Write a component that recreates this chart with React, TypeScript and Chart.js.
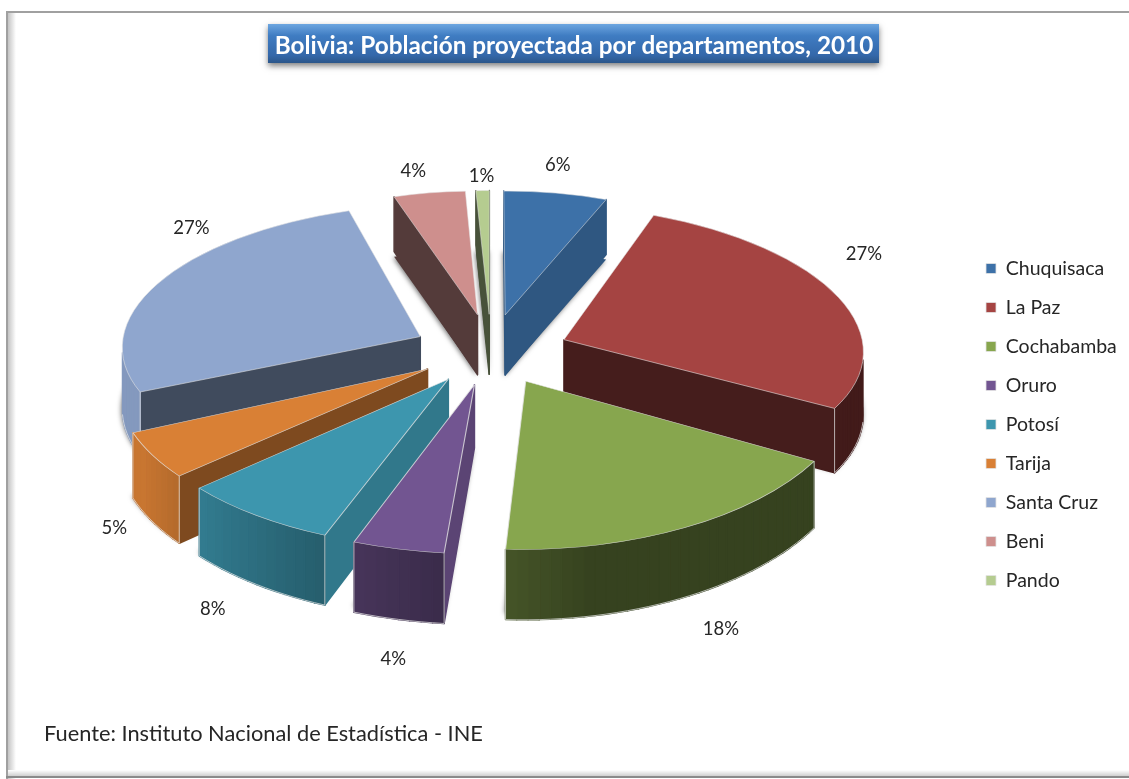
import React, { useEffect, useRef } from "react";
import { Chart, registerables } from "chart.js";

Chart.register(...registerables);

const departamentos = ["Chuquisaca", "La Paz", "Cochabamba", "Oruro", "Potosí", "Tarija", "Santa Cruz", "Beni", "Pando"];
const poblacionPct = [6.2, 27.2, 17.9, 4.3, 7.6, 5.0, 26.7, 4.3, 0.8];
const topColors = ["#3d71a8", "#a54442", "#87a64e", "#725591", "#3d96ae", "#d98035", "#8fa6ce", "#ce8f8d", "#b5cc90"];
const radialShade = [0.77, 0.42, 0.5, 0.8, 0.8, 0.58, 0.45, 0.41, 0.4];
const labelNudge = [[2, -28], [30, -40], [33, 101], [-5, 110], [-43, 93], [-38, 73], [29, -53], [-16, -22], [-1, -15]];
const titulo = "Bolivia: Población proyectada por departamentos, 2010";
const fuente = "Fuente: Instituto Nacional de Estadística - INE";

const W = 1129, H = 779;
const PIE_X = 491, PIE_Y = 349, TILT = 0.4748, PERSP = 0.000343, DEPTH = 61.5;
const FONT = "Lato, 'Open Sans', sans-serif";

const persp = (w: number) => 1 / (1 - PERSP * w);
const project = (u: number, w: number) => {
  const s = persp(w);
  return [PIE_X + u * s, PIE_Y + TILT * w * s];
};
const shadeHex = (hex: string, f: number) => {
  const n = parseInt(hex.slice(1), 16);
  return `rgb(${Math.round(((n >> 16) & 255) * f)},${Math.round(((n >> 8) & 255) * f)},${Math.round((n & 255) * f)})`;
};
const rimShade = (a: number) => {
  let d = ((a + Math.PI / 2) * 180) / Math.PI;
  d = ((d % 360) + 360) % 360;
  if (d <= 170) return 0.4;
  if (d >= 240) return 0.92;
  return 0.4 + ((d - 170) / 70) * 0.52;
};

function solve3(m: number[][], v: number[]) {
  const det = (a: number[][]) =>
    a[0][0] * (a[1][1] * a[2][2] - a[1][2] * a[2][1]) -
    a[0][1] * (a[1][0] * a[2][2] - a[1][2] * a[2][0]) +
    a[0][2] * (a[1][0] * a[2][1] - a[1][1] * a[2][0]);
  const d = det(m);
  return [0, 1, 2].map((c) => det(m.map((row, r) => row.map((x, i) => (i === c ? v[r] : x)))) / d);
}

// Best affine stand-in for the perspective projection over one exploded slice
function sliceGeometry(arc: any) {
  const off = arc.options.offset || 0;
  const mid = (arc.startAngle + arc.endAngle) / 2;
  const ox = Math.cos(mid) * off, oy = Math.sin(mid) * off;
  const r = arc.outerRadius;
  const samples: number[][] = [];
  for (let i = 0; i < 4; i++) samples.push([ox, oy]);
  for (let i = 0; i <= 12; i++) {
    const a = arc.startAngle + ((arc.endAngle - arc.startAngle) * i) / 12;
    const rep = i === 0 || i === 12 ? 3 : 1;
    for (let k = 0; k < rep; k++) samples.push([ox + Math.cos(a) * r, oy + Math.sin(a) * r]);
  }
  const M = [[0, 0, 0], [0, 0, 0], [0, 0, 0]];
  const bx = [0, 0, 0], by = [0, 0, 0];
  samples.forEach(([u, w]) => {
    const f = [u, w, 1];
    const [X, Y] = project(u, w);
    for (let i = 0; i < 3; i++) {
      bx[i] += f[i] * X;
      by[i] += f[i] * Y;
      for (let j = 0; j < 3; j++) M[i][j] += f[i] * f[j];
    }
  });
  const [a, c, e] = solve3(M, bx);
  const [b, d, f] = solve3(M, by);
  const T = (u: number, w: number) => [a * u + c * w + e, b * u + d * w + f];
  return { a, b, c, d, e, f, T, ox, oy, r, mid };
}

const piePlugin = {
  id: "pie3d",
  beforeDraw(chart: any) {
    const ctx = chart.ctx;
    ctx.save();
    // card
    ctx.fillStyle = "#ffffff";
    ctx.fillRect(0, 0, W, H);
    const lg = ctx.createLinearGradient(8, 0, 16, 0);
    lg.addColorStop(0, "#c4c4c4");
    lg.addColorStop(1, "#ffffff");
    ctx.fillStyle = lg;
    ctx.fillRect(8, 13, 8, H - 13);
    const bg = ctx.createLinearGradient(0, 770, 0, 776);
    bg.addColorStop(0, "#ffffff");
    bg.addColorStop(1, "#cfcfcf");
    ctx.fillStyle = bg;
    ctx.fillRect(8, 770, W - 8, 6);
    ctx.fillStyle = "#a0a0a0";
    ctx.fillRect(6, 11, W - 6, 2);
    ctx.fillRect(6, 11, 2, H - 11);
    ctx.fillStyle = "#8a8a8a";
    ctx.fillRect(6, 776, W - 6, 2);
    // title plate
    ctx.save();
    ctx.shadowColor = "rgba(0,0,0,0.5)";
    ctx.shadowBlur = 6;
    ctx.shadowOffsetY = 3;
    const g = ctx.createLinearGradient(0, 24, 0, 63);
    g.addColorStop(0, "#6da6e0");
    g.addColorStop(0.3, "#3f7cc2");
    g.addColorStop(0.8, "#3468aa");
    g.addColorStop(1, "#2b5689");
    ctx.fillStyle = g;
    ctx.fillRect(268, 24, 611, 39);
    ctx.restore();
    ctx.restore();
  },
  afterLayout(chart: any) {
    const lg = chart.legend;
    const pad = lg.options.labels.padding;
    lg.left = 986 - pad;
    lg.right = W;
    lg.top = 258.75 - pad;
    lg.bottom = 640;
  },
  beforeDatasetsDraw(chart: any) {
    const ctx = chart.ctx;
    const arcs: any[] = chart.getDatasetMeta(0).data;
    const order = arcs
      .map((arc, i) => ({ arc, i, g: sliceGeometry(arc) }))
      .sort((p, q) => p.g.oy - q.g.oy);
    const camW = 1 / PERSP;

    order.forEach(({ arc, i, g }) => {
      const base = topColors[i];
      const savedOptions = arc.options;
      // the explosion is applied here so the arc keeps its true angular span
      const applyT = (dy: number) => {
        ctx.translate(0, dy);
        ctx.transform(g.a, g.b, g.c, g.d, g.e, g.f);
        ctx.translate(g.ox - arc.x, g.oy - arc.y);
      };
      const baseDepth = DEPTH * persp(g.oy);

      // soft ground shadow from the slice's lower face
      ctx.save();
      ctx.shadowColor = "rgba(0,0,0,0.55)";
      ctx.shadowBlur = 5;
      ctx.shadowOffsetY = 1;
      ctx.shadowOffsetX = -1;
      applyT(baseDepth);
      arc.options = { ...savedOptions, offset: 0, backgroundColor: shadeHex(base, radialShade[i]), borderWidth: 0 };
      arc.draw(ctx, chart.chartArea);
      ctx.restore();
      arc.options = savedOptions;

      const bottom = (u: number, w: number) => {
        const t = g.T(u, w);
        return [t[0], t[1] + DEPTH * persp(w)];
      };
      const quad = (p1: number[], p2: number[], color: string) => {
        const a = g.T(p1[0], p1[1]), b = g.T(p2[0], p2[1]);
        const c = bottom(p2[0], p2[1]), d = bottom(p1[0], p1[1]);
        ctx.beginPath();
        ctx.moveTo(a[0], a[1]);
        ctx.lineTo(b[0], b[1]);
        ctx.lineTo(c[0], c[1]);
        ctx.lineTo(d[0], d[1]);
        ctx.closePath();
        ctx.fillStyle = color;
        ctx.strokeStyle = color;
        ctx.lineWidth = 1.5;
        ctx.lineJoin = "round";
        ctx.fill();
        ctx.stroke();
      };
      const apex = [g.ox, g.oy];
      const rimPt = (a: number) => [g.ox + Math.cos(a) * g.r, g.oy + Math.sin(a) * g.r];
      const facing = (nx: number, ny: number, p: number[]) => nx * (0 - p[0]) + ny * (camW - p[1]) > 0;
      const startP = rimPt(arc.startAngle), endP = rimPt(arc.endAngle);
      const radialColor = shadeHex(base, radialShade[i]);
      const sa = arc.startAngle, ea = arc.endAngle;

      // radial walls
      if (facing(Math.sin(sa), -Math.cos(sa), apex)) quad(apex, startP, radialColor);
      if (facing(-Math.sin(ea), Math.cos(ea), apex)) quad(apex, endP, radialColor);

      // rim wall
      const STEPS = Math.max(4, Math.ceil(((ea - sa) * 180) / Math.PI / 2));
      const lineEdges: number[][][] = [];
      for (let k = 0; k < STEPS; k++) {
        const a0 = sa + ((ea - sa) * k) / STEPS;
        const a1 = sa + ((ea - sa) * (k + 1)) / STEPS;
        const am = (a0 + a1) / 2;
        const p0 = rimPt(a0), p1 = rimPt(a1);
        if (facing(Math.cos(am), Math.sin(am), p0)) {
          quad(p0, p1, shadeHex(base, rimShade(am)));
          lineEdges.push([bottom(p0[0], p0[1]), bottom(p1[0], p1[1])]);
        }
      }
      // highlight edges
      ctx.strokeStyle = "rgba(226,226,226,0.75)";
      ctx.lineWidth = 1;
      lineEdges.forEach(([q0, q1]) => {
        ctx.beginPath();
        ctx.moveTo(q0[0], q0[1]);
        ctx.lineTo(q1[0], q1[1]);
        ctx.stroke();
      });
      [startP, endP].forEach((p) => {
        const t = g.T(p[0], p[1]), b = bottom(p[0], p[1]);
        if (p[1] > 0) {
          ctx.beginPath();
          ctx.moveTo(t[0], t[1]);
          ctx.lineTo(b[0], b[1]);
          ctx.stroke();
        }
      });

      // top face, drawn by the library's arc element
      ctx.save();
      applyT(0);
      arc.options = { ...savedOptions, offset: 0 };
      arc.draw(ctx, chart.chartArea);
      arc.options = savedOptions;
      ctx.restore();
    });

    // percentage labels
    const total = poblacionPct.reduce((s, v) => s + v, 0);
    ctx.save();
    ctx.font = `18.5px ${FONT}`;
    ctx.fillStyle = "#262626";
    ctx.textAlign = "center";
    ctx.textBaseline = "middle";
    arcs.forEach((arc, i) => {
      const g = sliceGeometry(arc);
      const [x, y] = project(g.ox + Math.cos(g.mid) * g.r, g.oy + Math.sin(g.mid) * g.r);
      ctx.fillText(`${Math.round((poblacionPct[i] / total) * 100)}%`, x + labelNudge[i][0], y + labelNudge[i][1]);
    });
    ctx.restore();
    return false;
  },
};

export default function App() {
  const ref = useRef<HTMLCanvasElement>(null);
  useEffect(() => {
    document.body.style.margin = "0";
    const chart = new Chart(ref.current as HTMLCanvasElement, {
      type: "pie",
      data: {
        labels: departamentos,
        datasets: [
          {
            data: poblacionPct,
            backgroundColor: topColors,
            borderColor: "rgba(228,228,228,0.8)",
            borderWidth: 1,
            offset: 75,
            radius: 302,
          } as any,
        ],
      },
      options: {
        responsive: false,
        animation: false,
        events: [],
        layout: { padding: { left: 44, right: 25, top: 0, bottom: 0 } },
        plugins: {
          tooltip: { enabled: false },
          title: {
            display: true,
            text: titulo,
            color: "#ffffff",
            font: { family: FONT, size: 24.3, weight: "bold" },
            padding: { top: 32, bottom: 55 },
          },
          subtitle: {
            display: true,
            text: fuente,
            position: "bottom",
            align: "start",
            color: "#262626",
            font: { family: FONT, size: 21.8, weight: "normal" },
            padding: { top: 10, bottom: 32 },
          },
          legend: {
            position: "right",
            align: "start",
            labels: {
              boxWidth: 10,
              boxHeight: 10,
              padding: 19.5,
              color: "#262626",
              font: { family: FONT, size: 19.5 },
            },
          },
        },
      } as any,
      plugins: [piePlugin as any],
    });
    return () => chart.destroy();
  }, []);
  return <canvas ref={ref} width={W} height={H} style={{ display: "block" }} />;
}
